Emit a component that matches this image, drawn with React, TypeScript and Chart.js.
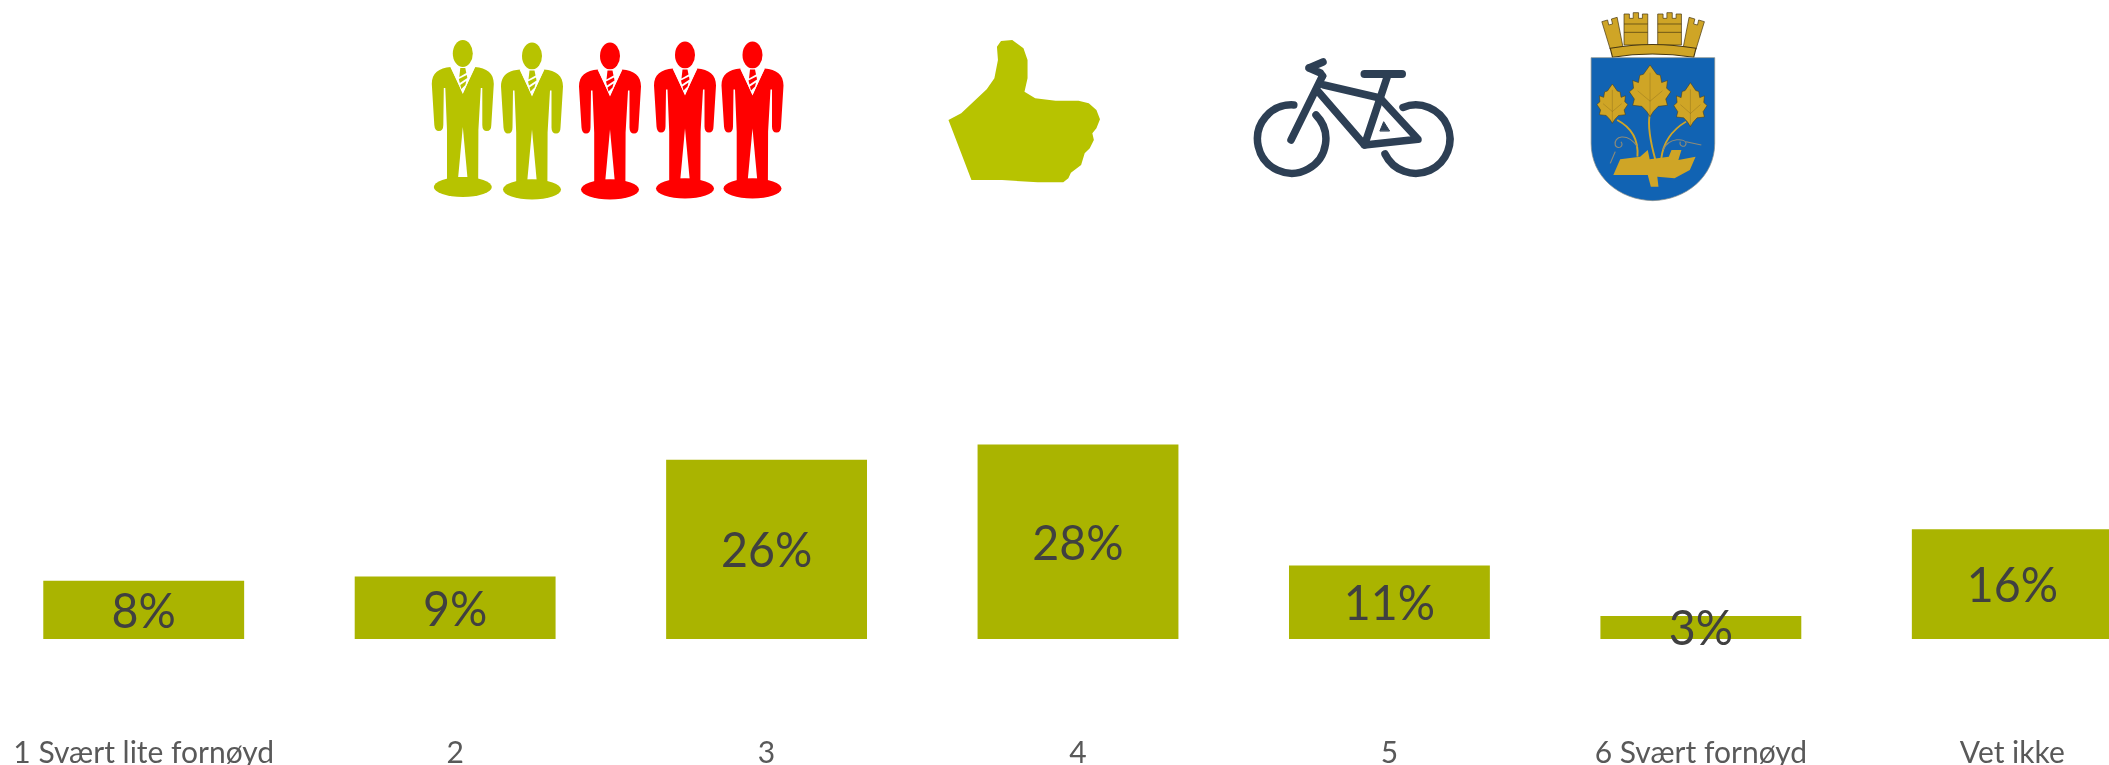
import React, { useEffect, useRef } from "react";
import { Chart, registerables } from "chart.js";

Chart.register(...registerables);

const categories = ["1 Svært lite fornøyd", "2", "3", "4", "5", "6 Svært fornøyd", "Vet ikke"];
const percentages = [8.4, 9.0, 25.8, 28.0, 10.6, 3.3, 15.8];

const BAR = "#AAB400";
const OLIVE = "#B7C300";
const RED = "#FF0000";
const NAVY = "#2D3F54";
const BLUE = "#1163B3";
const GOLD = "#CFA526";
const DARK = "#4A3A12";

const percentLabels: any = {
  id: "percentLabels",
  afterDatasetsDraw(chart: any) {
    const ctx = chart.ctx;
    const meta = chart.getDatasetMeta(0);
    ctx.save();
    ctx.font = "49px Lato";
    ctx.fillStyle = "#404040";
    ctx.textAlign = "center";
    ctx.textBaseline = "middle";
    meta.data.forEach((bar: any, i: number) => {
      ctx.save();
      ctx.translate(bar.x, (bar.y + bar.base) / 2 + 2);
      ctx.scale(0.95, 1);
      ctx.fillText(Math.round(percentages[i]) + "%", 0, 0);
      ctx.restore();
    });
    ctx.restore();
  },
};

function Man({ cx, top, color }: { cx: number; top: number; color: string }) {
  return (
    <g transform={`translate(${cx},${top})`}>
      <ellipse cx={0} cy={13.5} rx={10} ry={13.5} fill={color} />
      <path
        fill={color}
        d="M-12,27 C-24,28 -31,33 -31,44 L-28.5,85 Q-28,91 -24,91 Q-19.5,91 -19.5,85 L-19,48 L-17.5,48 L-15.8,90 L-15.8,140 L15.4,140 L15.6,90 L18,48 L19.5,48 L19.5,85 Q19.5,91 24,91 Q28.5,91 28.5,85 L31,44 C31,33 24,28 12,27 L0,54 Z"
      />
      <path fill="#fff" d="M0,87 L4.6,137 L-4.6,137 Z" />
      <path fill="#fff" d="M-12.5,27 L12.5,27 L0,53 Z" />
      <path fill={color} d="M-2.5,28 L2.5,28 L3.5,33 L-3.5,37 Z M-4,39 L4,35 L4.5,38 L-3,43 Z M-2.5,45 L3.5,41 L2.5,45 L-1.5,49 Z" />
      <ellipse cx={0} cy={147} rx={29} ry={10} fill={color} />
    </g>
  );
}

function Leaf({ x, y, w, h }: { x: number; y: number; w: number; h: number }) {
  const half = [
    [0.5, 0], [0.66, 0.18], [0.75, 0.2], [0.78, 0.34], [0.92, 0.3], [0.9, 0.45], [1, 0.52],
    [0.88, 0.66], [0.92, 0.78], [0.7, 0.8], [0.58, 0.9], [0.5, 1],
  ];
  const shape = [...half, ...half.slice(1, -1).reverse().map(([a, b]) => [1 - a, b])];
  return (
    <g>
      <polygon
        points={shape.map(([a, b]) => `${x + a * w},${y + b * h}`).join(" ")}
        fill={GOLD}
        stroke={DARK}
        strokeWidth={1.5}
      />
      <path
        d={`M${x + w / 2},${y + h * 0.15} V${y + h} M${x + w / 2},${y + h * 0.7} L${x + w * 0.2},${y + h * 0.5} M${x + w / 2},${y + h * 0.7} L${x + w * 0.8},${y + h * 0.5}`}
        stroke={DARK}
        strokeWidth={1}
        fill="none"
        opacity={0.6}
      />
    </g>
  );
}

function Tower({ d }: { d: string }) {
  return <path d={d} fill={GOLD} stroke={DARK} strokeWidth={2} />;
}

function Icons() {
  return (
    <svg width={2109} height={765} style={{ position: "absolute", left: 0, top: 0 }}>
      <Man cx={462.8} top={40} color={OLIVE} />
      <Man cx={532} top={42.5} color={OLIVE} />
      <Man cx={610} top={42.5} color={RED} />
      <Man cx={685} top={41.5} color={RED} />
      <Man cx={752.5} top={41.5} color={RED} />

      <g transform="translate(400,0) scale(0.5102,0.3333)">
        <polygon
          fill={OLIVE}
          points="1075,360 1100,340 1150,268 1165,235 1172,180 1170,140 1178,123 1200,120 1222,145 1230,180 1230,235 1224,275 1245,295 1285,302 1330,302 1350,310 1365,330 1372,358 1365,385 1357,400 1360,420 1352,445 1342,460 1335,495 1315,518 1310,535 1300,547 1250,547 1180,540 1120,540 1100,460"
        />
      </g>

      <g fill="none" stroke={NAVY} strokeWidth={7.5} strokeLinecap="round" strokeLinejoin="round">
        <path d="M1293.8,104.9 A34.2,34.2 0 1 0 1316,115" />
        <path d="M1403,107.4 A34.2,34.2 0 1 1 1385,154" />
        <path d="M1322.5,76 L1291,140" />
        <path d="M1309,68 L1323,62 M1309,68 L1320.5,73 L1322.5,76" />
        <path d="M1324,85 L1380,98" />
        <path d="M1318.6,92 L1364.5,145 L1418,139.3 L1380,98" />
        <path d="M1387.5,76 L1364.5,145" />
        <path d="M1364.5,74 L1402,74" strokeWidth={8} />
        <path d="M1380,130.7 L1383.7,121.7 L1389.4,130.7 Z" fill={NAVY} strokeWidth={1} />
      </g>

      <g transform="translate(1200,0) scale(0.3827,0.3333)">
        <Tower d="M1050,65 L1065,60 L1068,75 L1078,72 L1075,57 L1090,52 L1105,140 L1072,148 Z" />
        <Tower d="M1108,42 L1122,42 L1122,55 L1132,55 L1132,38 L1146,38 L1146,55 L1156,55 L1156,42 L1170,42 L1170,135 L1108,135 Z" />
        <Tower d="M1196,42 L1210,42 L1210,55 L1220,55 L1220,38 L1234,38 L1234,55 L1244,55 L1244,42 L1258,42 L1258,135 L1196,135 Z" />
        <Tower d="M1318,65 L1303,60 L1300,75 L1290,72 L1293,57 L1278,52 L1263,140 L1296,148 Z" />
        <path d="M1108,72 H1170 M1108,97 H1170 M1196,72 H1258 M1196,97 H1258" stroke={DARK} strokeWidth={2} />
        <path d="M1072,145 Q1180,122 1296,145 L1290,172 Q1180,152 1078,172 Z" fill={GOLD} stroke={DARK} strokeWidth={3} />
        <path
          d="M1022,173 L1345,173 L1345,430 C1345,530 1270,600 1183,602 C1095,600 1022,530 1022,430 Z"
          fill={BLUE}
          stroke="#8A8F8A"
          strokeWidth={2}
        />
        <g fill="none" stroke={GOLD} strokeWidth={5}>
          <path d="M1175,345 Q1168,390 1190,480" />
          <path d="M1090,360 Q1148,395 1143,470" />
          <path d="M1270,365 Q1212,405 1205,478" />
        </g>
        <g fill="none" stroke="#8D8B78" strokeWidth={3}>
          <path d="M1143,440 C1115,395 1080,410 1085,435 C1090,450 1110,440 1100,425" />
          <path d="M1085,455 L1072,490" />
          <path d="M1210,450 C1225,410 1270,415 1270,430 C1270,445 1250,440 1255,425" />
          <path d="M1270,425 L1310,435" />
        </g>
        <Leaf x={1122} y={195} w={108} h={155} />
        <Leaf x={1037} y={252} w={81} h={118} />
        <Leaf x={1238} y={248} w={87} h={132} />
        <polygon
          fill={GOLD}
          points="1098,478 1150,470 1170,450 1175,478 1225,470 1232,450 1258,450 1250,480 1295,470 1280,510 1240,535 1195,530 1198,560 1178,560 1170,525 1080,525"
        />
      </g>
    </svg>
  );
}

export default function App() {
  const ref = useRef<HTMLCanvasElement | null>(null);

  useEffect(() => {
    if (!ref.current) return;
    const chart = new Chart(ref.current, {
      type: "bar",
      data: {
        labels: categories,
        datasets: [
          {
            data: percentages,
            backgroundColor: BAR,
            barPercentage: 0.645,
            categoryPercentage: 1,
          },
        ],
      },
      options: {
        responsive: false,
        animation: false,
        layout: { padding: 0 },
        plugins: { legend: { display: false }, tooltip: { enabled: false } },
        scales: {
          x: {
            grid: { display: false },
            border: { display: false },
            afterFit(scale: any) {
              scale.height = 126;
              scale.paddingLeft = 0;
              scale.paddingRight = 0;
            },
            ticks: {
              autoSkip: false,
              maxRotation: 0,
              minRotation: 0,
              padding: 88,
              color: "#595959",
              font: { family: "Lato", size: 30 },
            },
          },
          y: { display: false, min: 0, max: 92 },
        },
      },
      plugins: [percentLabels],
    } as any);
    return () => chart.destroy();
  }, []);

  return (
    <div style={{ position: "absolute", left: 0, top: 0, width: 2109, height: 765, overflow: "hidden", background: "#fff" }}>
      <canvas ref={ref} width={2180} height={765} style={{ position: "absolute", left: -12, top: 0, display: "block" }} />
      <Icons />
    </div>
  );
}
